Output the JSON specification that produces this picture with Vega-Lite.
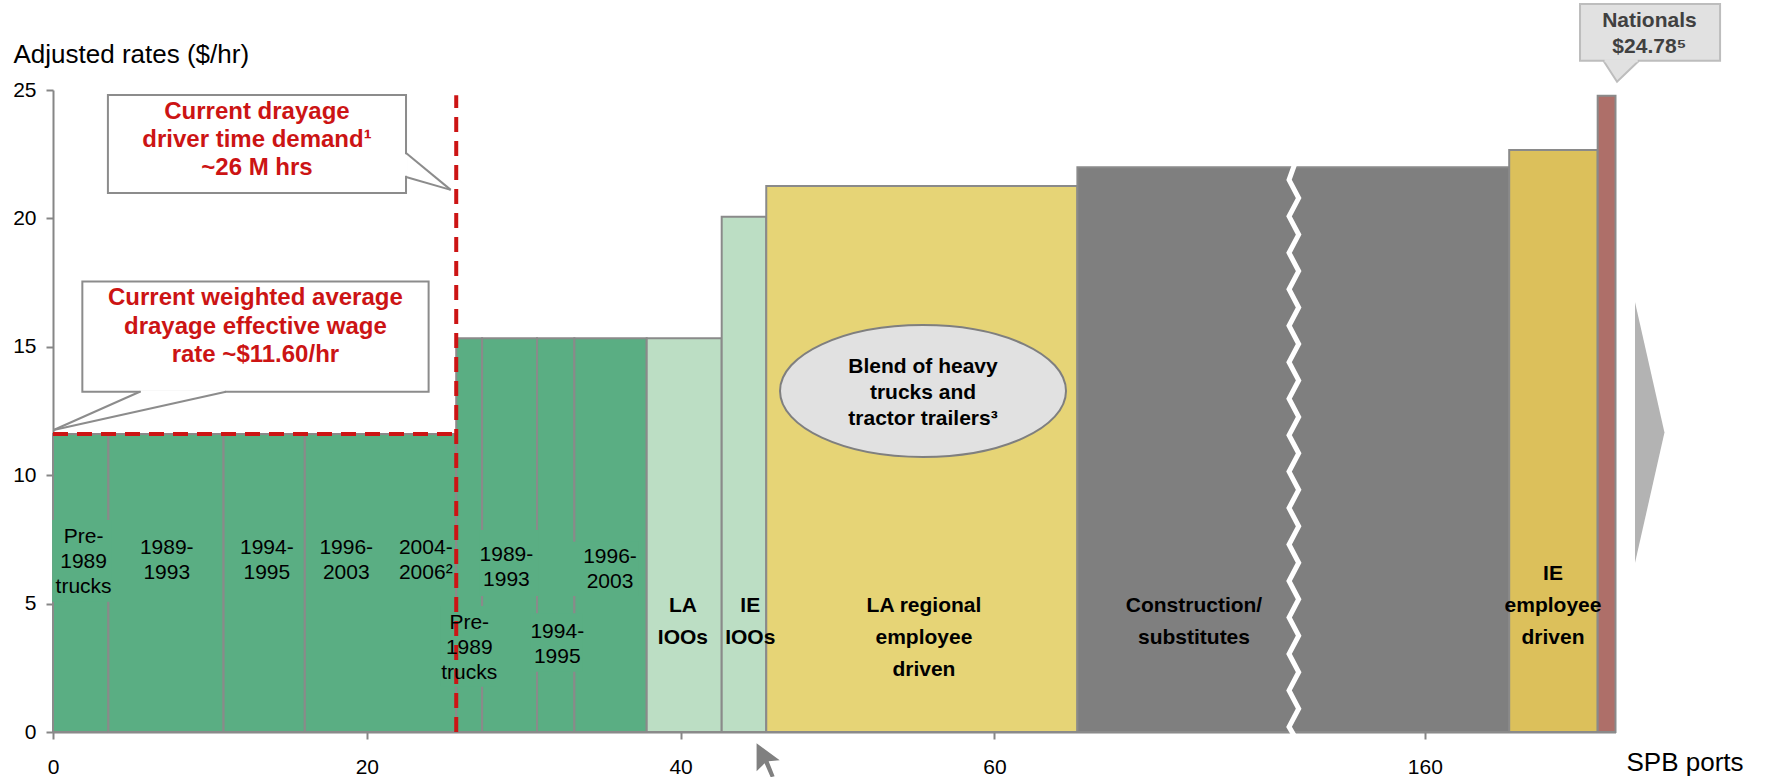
{
  "$schema": "https://vega.github.io/schema/vega-lite/v6.json",
  "width": 1563,
  "height": 642,
  "autosize": {"type": "none"},
  "padding": {"left": 53, "top": 90, "right": 150, "bottom": 45},
  "background": "white",
  "config": {
    "view": {"stroke": null},
    "font": "Liberation Sans",
    "axis": {
      "domainColor": "#868686", "domainWidth": 2,
      "tickColor": "#868686", "tickWidth": 2, "tickSize": 7,
      "labelFont": "Liberation Sans", "labelFontSize": 21, "labelColor": "#000000",
      "titleFont": "Liberation Sans", "titleFontSize": 26, "titleFontWeight": "normal", "titleColor": "#000000",
      "grid": false, "zindex": 0, "labelFlush": false, "labelOverlap": false, "labelBound": false
    },
    "axisX": {"labelPadding": 17, "titleX": 1573, "titleY": 38, "titleAlign": "left", "titleBaseline": "alphabetic"},
    "axisY": {"labelPadding": 10, "titleAngle": 0, "titleX": -40, "titleY": -28, "titleAlign": "left", "titleBaseline": "alphabetic"}
  },
  "datasets": {
    "bars": [
      {"segment": "Pre-1989 trucks", "type": "Drayage trucks", "start": 0, "end": 3.53, "rate": 11.6},
      {"segment": "1989-1993", "type": "Drayage trucks", "start": 3.53, "end": 10.87, "rate": 11.6},
      {"segment": "1994-1995", "type": "Drayage trucks", "start": 10.87, "end": 16.05, "rate": 11.6},
      {"segment": "1996-2006", "type": "Drayage trucks", "start": 16.05, "end": 25.7, "rate": 11.6},
      {"segment": "Pre-1989 trucks (higher rate)", "type": "Drayage trucks", "start": 25.7, "end": 27.35, "rate": 15.33},
      {"segment": "1989-1993 (higher rate)", "type": "Drayage trucks", "start": 27.35, "end": 30.85, "rate": 15.33},
      {"segment": "1994-1995 (higher rate)", "type": "Drayage trucks", "start": 30.85, "end": 33.23, "rate": 15.33},
      {"segment": "1996-2003 (higher rate)", "type": "Drayage trucks", "start": 33.23, "end": 37.84, "rate": 15.33},
      {"segment": "LA IOOs", "type": "IOOs", "start": 37.84, "end": 42.62, "rate": 15.33},
      {"segment": "IE IOOs", "type": "IOOs", "start": 42.62, "end": 45.46, "rate": 20.06},
      {"segment": "LA regional employee driven", "type": "LA employee", "start": 45.46, "end": 65.29, "rate": 21.26},
      {"segment": "Construction/substitutes", "type": "Construction", "start": 65.29, "end": 165.4, "rate": 21.99},
      {"segment": "IE employee driven", "type": "IE employee", "start": 165.4, "end": 171.06, "rate": 22.66},
      {"segment": "Nationals", "type": "Nationals", "start": 171.06, "end": 172.2, "rate": 24.78}
    ],
    "labelBoxes": [
      {"x0": -0.05, "x1": 3.7, "y0": 5.07, "y1": 8.26},
      {"x0": 24.7, "x1": 28.4, "y0": 1.76, "y1": 4.91},
      {"x0": 27.2, "x1": 30.95, "y0": 5.3, "y1": 7.87},
      {"x0": 30.45, "x1": 33.75, "y0": 2.35, "y1": 4.62},
      {"x0": 33.1, "x1": 37.3, "y0": 5.3, "y1": 7.41}
    ],
    "breakMark": [
      {"i": 0, "x": 151.7, "y": 22.15}, {"i": 1, "x": 78.78, "y": 21.5},
      {"i": 2, "x": 151.93, "y": 20.79}, {"i": 3, "x": 78.78, "y": 20.08},
      {"i": 4, "x": 151.93, "y": 19.37}, {"i": 5, "x": 78.78, "y": 18.66},
      {"i": 6, "x": 151.93, "y": 17.95}, {"i": 7, "x": 78.78, "y": 17.24},
      {"i": 8, "x": 151.93, "y": 16.53}, {"i": 9, "x": 78.78, "y": 15.82},
      {"i": 10, "x": 151.93, "y": 15.11}, {"i": 11, "x": 78.78, "y": 14.4},
      {"i": 12, "x": 151.93, "y": 13.69}, {"i": 13, "x": 78.78, "y": 12.98},
      {"i": 14, "x": 151.93, "y": 12.27}, {"i": 15, "x": 78.78, "y": 11.56},
      {"i": 16, "x": 151.93, "y": 10.85}, {"i": 17, "x": 78.78, "y": 10.14},
      {"i": 18, "x": 151.93, "y": 9.43}, {"i": 19, "x": 78.78, "y": 8.72},
      {"i": 20, "x": 151.93, "y": 8.01}, {"i": 21, "x": 78.78, "y": 7.3},
      {"i": 22, "x": 151.93, "y": 6.59}, {"i": 23, "x": 78.78, "y": 5.88},
      {"i": 24, "x": 151.93, "y": 5.17}, {"i": 25, "x": 78.78, "y": 4.46},
      {"i": 26, "x": 151.93, "y": 3.75}, {"i": 27, "x": 78.78, "y": 3.04},
      {"i": 28, "x": 151.93, "y": 2.33}, {"i": 29, "x": 78.78, "y": 1.62},
      {"i": 30, "x": 151.93, "y": 0.91}, {"i": 31, "x": 78.78, "y": 0.2},
      {"i": 32, "x": 151.75, "y": -0.25}
    ],
    "redLines": [
      {"what": "driver time demand", "x0": 25.7, "x1": 25.7, "y0": 0, "y1": 24.8},
      {"what": "weighted average wage", "x0": 0, "x1": 25.7, "y0": 11.6, "y1": 11.6}
    ],
    "calloutBoxes": [
      {"x0": 3.5, "x1": 22.5, "y0": 20.99, "y1": 24.81},
      {"x0": 1.87, "x1": 23.94, "y0": 13.25, "y1": 17.54}
    ],
    "calloutGaps": [
      {"x0": 22.5, "x1": 22.5, "y0": 22.5, "y1": 21.66},
      {"x0": 5.6, "x1": 10.95, "y0": 13.25, "y1": 13.25}
    ],
    "calloutTails": [
      {"x0": 22.5, "y0": 22.55, "x1": 25.35, "y1": 21.11},
      {"x0": 22.5, "y0": 21.61, "x1": 25.35, "y1": 21.11},
      {"x0": 5.53, "y0": 13.25, "x1": 0.04, "y1": 11.76},
      {"x0": 11.02, "y0": 13.25, "x1": 0.04, "y1": 11.76}
    ],
    "nationalsBox": [{"x0": 169.93, "x1": 178.89, "y0": 26.14, "y1": 28.35}],
    "nationalsTail": [{"x": 172.56, "y": 25.73}],
    "nationalsGap": [{"x0": 171.5, "x1": 173.62, "y0": 26.14, "y1": 26.14}],
    "ellipse": [{"x": 55.45, "y": 13.28}],
    "arrow": [{"x": 174.39, "y": 11.66}],
    "cursor": [{"x": 45.58, "y": -1.1}],
    "normalLabels": [
      {"label": ["Pre-", "1989", "trucks"], "x": 1.95, "y": 7.6},
      {"label": ["1989-", "1993"], "x": 7.25, "y": 7.15},
      {"label": ["1994-", "1995"], "x": 13.63, "y": 7.15},
      {"label": ["1996-", "2003"], "x": 18.69, "y": 7.15},
      {"label": ["2004-", "2006²"], "x": 23.76, "y": 7.15},
      {"label": ["Pre-", "1989", "trucks"], "x": 26.53, "y": 4.23},
      {"label": ["1989-", "1993"], "x": 28.9, "y": 6.89},
      {"label": ["1994-", "1995"], "x": 32.14, "y": 3.91},
      {"label": ["1996-", "2003"], "x": 35.5, "y": 6.83}
    ],
    "boldLabels": [
      {"label": ["LA", "IOOs"], "x": 40.15, "y": 4.91},
      {"label": ["IE", "IOOs"], "x": 44.44, "y": 4.91},
      {"label": ["LA regional", "employee", "driven"], "x": 55.51, "y": 4.91},
      {"label": ["Construction/", "substitutes"], "x": 72.72, "y": 4.91},
      {"label": ["IE", "employee", "driven"], "x": 168.2, "y": 6.14}
    ],
    "redTexts": [
      {"label": ["Current drayage", "driver time demand¹", "~26 M hrs"], "x": 13.0, "y": 24.16},
      {"label": ["Current weighted average", "drayage effective wage", "rate ~$11.60/hr"], "x": 12.9, "y": 16.89}
    ],
    "ellipseText": [{"label": ["Blend of heavy", "trucks and", "tractor trailers³"], "x": 55.45, "y": 14.22}],
    "nationalsText": [{"label": ["Nationals", "$24.78⁵"], "x": 174.37, "y": 27.69}]
  },
  "layer": [
    {
      "data": {"name": "bars"},
      "mark": {"type": "rect", "stroke": "#8a8a8a", "strokeWidth": 2},
      "encoding": {
        "x": {"field": "start", "type": "quantitative",
              "scale": {"domain": [0, 79, 151.6, 172.2], "range": [0, 1239.5, 1240.5, 1562.5], "nice": false, "zero": false},
              "axis": {"values": [0, 20, 40, 60, 160], "title": "SPB ports"}},
        "x2": {"field": "end"},
        "y": {"field": "rate", "type": "quantitative",
              "scale": {"domain": [0, 25], "nice": false, "zero": false},
              "axis": {"values": [0, 5, 10, 15, 20, 25], "title": "Adjusted rates ($/hr)"}},
        "y2": {"datum": 0},
        "color": {"field": "type", "type": "nominal", "legend": null,
                  "scale": {"domain": ["Drayage trucks", "IOOs", "LA employee", "Construction", "IE employee", "Nationals"],
                            "range": ["#5AAE83", "#BCDEC4", "#E6D476", "#7F7F7F", "#DCC05B", "#AE6F69"]}}
      }
    },
    {
      "data": {"name": "labelBoxes"},
      "mark": {"type": "rect", "fill": "#5AAE83", "strokeWidth": 0},
      "encoding": {
        "x": {"field": "x0", "type": "quantitative"}, "x2": {"field": "x1"},
        "y": {"field": "y0", "type": "quantitative"}, "y2": {"field": "y1"}
      }
    },
    {
      "data": {"name": "breakMark"},
      "mark": {"type": "line", "stroke": "#ffffff", "strokeWidth": 5, "strokeJoin": "miter"},
      "encoding": {
        "x": {"field": "x", "type": "quantitative"},
        "y": {"field": "y", "type": "quantitative"},
        "order": {"field": "i", "type": "quantitative"}
      }
    },
    {
      "data": {"name": "redLines"},
      "mark": {"type": "rule", "stroke": "#CC1414", "strokeWidth": 4, "strokeDash": [15, 9]},
      "encoding": {
        "x": {"field": "x0", "type": "quantitative"}, "x2": {"field": "x1"},
        "y": {"field": "y0", "type": "quantitative"}, "y2": {"field": "y1"}
      }
    },
    {
      "data": {"name": "calloutBoxes"},
      "mark": {"type": "rect", "fill": "#ffffff", "stroke": "#8c8c8c", "strokeWidth": 2},
      "encoding": {
        "x": {"field": "x0", "type": "quantitative"}, "x2": {"field": "x1"},
        "y": {"field": "y0", "type": "quantitative"}, "y2": {"field": "y1"}
      }
    },
    {
      "data": {"name": "calloutGaps"},
      "mark": {"type": "rule", "stroke": "#ffffff", "strokeWidth": 3},
      "encoding": {
        "x": {"field": "x0", "type": "quantitative"}, "x2": {"field": "x1"},
        "y": {"field": "y0", "type": "quantitative"}, "y2": {"field": "y1"}
      }
    },
    {
      "data": {"name": "calloutTails"},
      "mark": {"type": "rule", "stroke": "#8c8c8c", "strokeWidth": 2},
      "encoding": {
        "x": {"field": "x0", "type": "quantitative"}, "x2": {"field": "x1"},
        "y": {"field": "y0", "type": "quantitative"}, "y2": {"field": "y1"}
      }
    },
    {
      "data": {"name": "nationalsBox"},
      "mark": {"type": "rect", "fill": "#E1E1E1", "stroke": "#BDBDBD", "strokeWidth": 2},
      "encoding": {
        "x": {"field": "x0", "type": "quantitative"}, "x2": {"field": "x1"},
        "y": {"field": "y0", "type": "quantitative"}, "y2": {"field": "y1"}
      }
    },
    {
      "data": {"name": "nationalsTail"},
      "mark": {"type": "point", "shape": "M-1,-0.583L-0.234,0.6L1,-0.583", "size": 1225, "filled": true,
               "fill": "#E1E1E1", "stroke": "#BDBDBD", "strokeWidth": 2, "opacity": 1},
      "encoding": {
        "x": {"field": "x", "type": "quantitative"},
        "y": {"field": "y", "type": "quantitative"}
      }
    },
    {
      "data": {"name": "nationalsGap"},
      "mark": {"type": "rule", "stroke": "#E1E1E1", "strokeWidth": 3},
      "encoding": {
        "x": {"field": "x0", "type": "quantitative"}, "x2": {"field": "x1"},
        "y": {"field": "y0", "type": "quantitative"}, "y2": {"field": "y1"}
      }
    },
    {
      "data": {"name": "ellipse"},
      "mark": {"type": "point", "shape": "M-1,0C-1,-0.2549,-0.5523,-0.4615,0,-0.4615C0.5523,-0.4615,1,-0.2549,1,0C1,0.2549,0.5523,0.4615,0,0.4615C-0.5523,0.4615,-1,0.2549,-1,0Z",
               "size": 81796, "filled": true, "fill": "#E1E1E1", "stroke": "#7F7F7F", "strokeWidth": 2, "opacity": 1},
      "encoding": {
        "x": {"field": "x", "type": "quantitative"},
        "y": {"field": "y", "type": "quantitative"}
      }
    },
    {
      "data": {"name": "arrow"},
      "mark": {"type": "point", "shape": "M-0.113,-1L0.113,0L-0.113,1Z", "size": 68121, "filled": true,
               "fill": "#B3B3B3", "strokeWidth": 0, "opacity": 1},
      "encoding": {
        "x": {"field": "x", "type": "quantitative"},
        "y": {"field": "y", "type": "quantitative"}
      }
    },
    {
      "data": {"name": "cursor"},
      "mark": {"type": "point", "shape": "M-0.68,-1L0.68,0L0.03,0.06L0.38,0.94L0.15,1L-0.21,0.18L-0.68,0.65Z", "size": 1156, "filled": true,
               "fill": "#808080", "strokeWidth": 0, "opacity": 1},
      "encoding": {
        "x": {"field": "x", "type": "quantitative"},
        "y": {"field": "y", "type": "quantitative"}
      }
    },
    {
      "data": {"name": "normalLabels"},
      "mark": {"type": "text", "font": "Liberation Sans", "fontSize": 21, "lineHeight": 25, "align": "center", "baseline": "middle", "color": "#000000"},
      "encoding": {
        "x": {"field": "x", "type": "quantitative"},
        "y": {"field": "y", "type": "quantitative"},
        "text": {"field": "label"}
      }
    },
    {
      "data": {"name": "boldLabels"},
      "mark": {"type": "text", "font": "Liberation Sans", "fontSize": 21, "fontWeight": "bold", "lineHeight": 32, "align": "center", "baseline": "middle", "color": "#000000"},
      "encoding": {
        "x": {"field": "x", "type": "quantitative"},
        "y": {"field": "y", "type": "quantitative"},
        "text": {"field": "label"}
      }
    },
    {
      "data": {"name": "redTexts"},
      "mark": {"type": "text", "font": "Liberation Sans", "fontSize": 24, "fontWeight": "bold", "lineHeight": 28.3, "align": "center", "baseline": "middle", "color": "#CC1414"},
      "encoding": {
        "x": {"field": "x", "type": "quantitative"},
        "y": {"field": "y", "type": "quantitative"},
        "text": {"field": "label"}
      }
    },
    {
      "data": {"name": "ellipseText"},
      "mark": {"type": "text", "font": "Liberation Sans", "fontSize": 21, "fontWeight": "bold", "lineHeight": 26, "align": "center", "baseline": "middle", "color": "#000000"},
      "encoding": {
        "x": {"field": "x", "type": "quantitative"},
        "y": {"field": "y", "type": "quantitative"},
        "text": {"field": "label"}
      }
    },
    {
      "data": {"name": "nationalsText"},
      "mark": {"type": "text", "font": "Liberation Sans", "fontSize": 21, "fontWeight": "bold", "lineHeight": 26, "align": "center", "baseline": "middle", "color": "#404040"},
      "encoding": {
        "x": {"field": "x", "type": "quantitative"},
        "y": {"field": "y", "type": "quantitative"},
        "text": {"field": "label"}
      }
    }
  ]
}
